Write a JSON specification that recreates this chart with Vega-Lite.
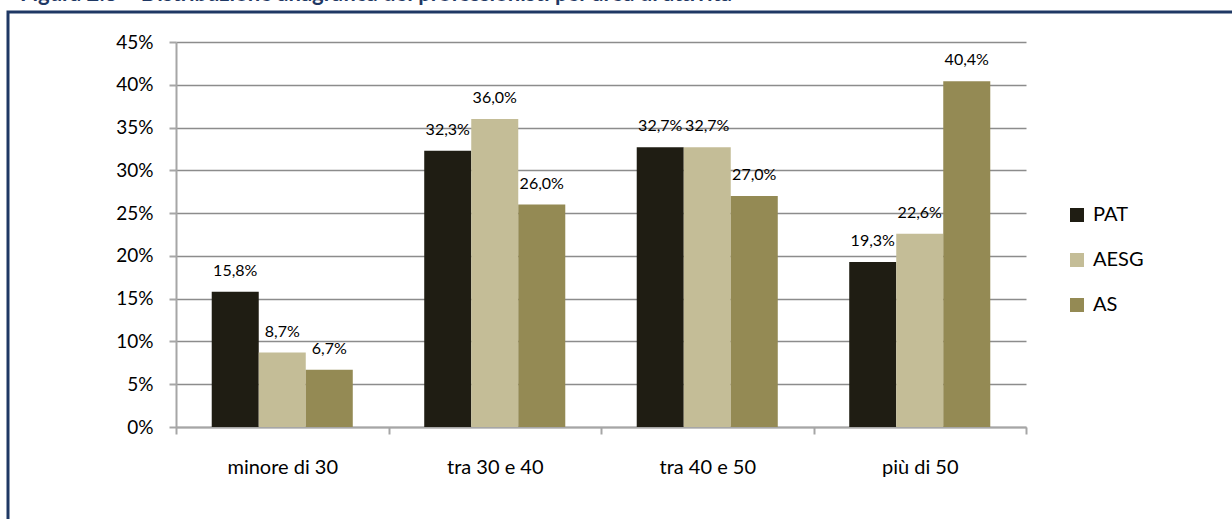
{
  "$schema": "https://vega.github.io/schema/vega-lite/v6.json",
  "autosize": "none",
  "width": 1228,
  "height": 512,
  "padding": {"left": 8, "top": 12, "right": -4, "bottom": -5},
  "background": "white",
  "title": {
    "text": "Figura 2.8 – Distribuzione anagrafica dei professionisti per area di attività",
    "anchor": "start",
    "frame": "group",
    "orient": "top",
    "baseline": "alphabetic",
    "offset": -11,
    "dx": 12,
    "font": "Lato",
    "fontSize": 22,
    "fontWeight": "bold",
    "color": "#1f3864"
  },
  "config": {
    "view": {"stroke": "#1f3864", "strokeWidth": 3},
    "locale": {"number": {"decimal": ",", "thousands": ".", "grouping": [3], "currency": ["€", ""]}},
    "font": "Lato"
  },
  "data": {
    "values": [
      {"eta": "minore di 30", "area": "PAT", "val": 0.158},
      {"eta": "minore di 30", "area": "AESG", "val": 0.087},
      {"eta": "minore di 30", "area": "AS", "val": 0.067},
      {"eta": "tra 30 e 40", "area": "PAT", "val": 0.323},
      {"eta": "tra 30 e 40", "area": "AESG", "val": 0.360},
      {"eta": "tra 30 e 40", "area": "AS", "val": 0.260},
      {"eta": "tra 40 e 50", "area": "PAT", "val": 0.327},
      {"eta": "tra 40 e 50", "area": "AESG", "val": 0.327},
      {"eta": "tra 40 e 50", "area": "AS", "val": 0.270},
      {"eta": "più di 50", "area": "PAT", "val": 0.193},
      {"eta": "più di 50", "area": "AESG", "val": 0.226},
      {"eta": "più di 50", "area": "AS", "val": 0.404}
    ]
  },
  "encoding": {
    "x": {
      "field": "eta",
      "type": "nominal",
      "sort": ["minore di 30", "tra 30 e 40", "tra 40 e 50", "più di 50"],
      "scale": {"range": [168, 1018], "paddingInner": 0, "paddingOuter": 0},
      "axis": {
        "title": null,
        "labelAngle": 0,
        "offset": -97,
        "tickBand": "extent",
        "tickSize": 7,
        "tickColor": "#a6a6a6",
        "tickWidth": 2,
        "domainColor": "#a6a6a6",
        "domainWidth": 2,
        "labelFont": "Lato",
        "labelFontSize": 20,
        "labelColor": "#000000",
        "labelBaseline": "middle",
        "labelPadding": 33,
        "grid": false
      }
    },
    "xOffset": {
      "field": "area",
      "type": "nominal",
      "sort": ["PAT", "AESG", "AS"],
      "scale": {"paddingInner": 0, "paddingOuter": 0.76}
    },
    "y": {
      "field": "val",
      "type": "quantitative",
      "scale": {"domain": [0, 0.45], "range": [415, 30], "nice": false},
      "axis": {
        "title": null,
        "format": ".0%",
        "values": [0, 0.05, 0.1, 0.15, 0.2, 0.25, 0.3, 0.35, 0.4, 0.45],
        "offset": -168,
        "tickSize": 7,
        "tickColor": "#a6a6a6",
        "tickWidth": 2,
        "domainColor": "#a6a6a6",
        "domainWidth": 2,
        "grid": true,
        "gridColor": "#8c8c8c",
        "gridWidth": 1.5,
        "labelFont": "Lato",
        "labelFontSize": 19,
        "labelColor": "#000000",
        "labelPadding": 16
      }
    }
  },
  "layer": [
    {
      "mark": {"type": "bar"},
      "encoding": {
        "color": {
          "field": "area",
          "type": "nominal",
          "sort": ["PAT", "AESG", "AS"],
          "scale": {"domain": ["PAT", "AESG", "AS"], "range": ["#1f1d13", "#c4bd97", "#948a54"]},
          "legend": {
            "title": null,
            "orient": "none",
            "legendX": 1059,
            "legendY": 193,
            "symbolType": "square",
            "symbolSize": 196,
            "symbolStrokeWidth": 0,
            "labelFont": "Lato",
            "labelFontSize": 20,
            "labelColor": "#000000",
            "labelOffset": 6,
            "rowPadding": 25,
            "padding": 0
          }
        }
      }
    },
    {
      "mark": {"type": "text", "baseline": "alphabetic", "dy": -16, "font": "Lato", "fontSize": 16, "color": "#000000"},
      "encoding": {
        "text": {"field": "val", "type": "quantitative", "format": ".1%"}
      }
    }
  ]
}
